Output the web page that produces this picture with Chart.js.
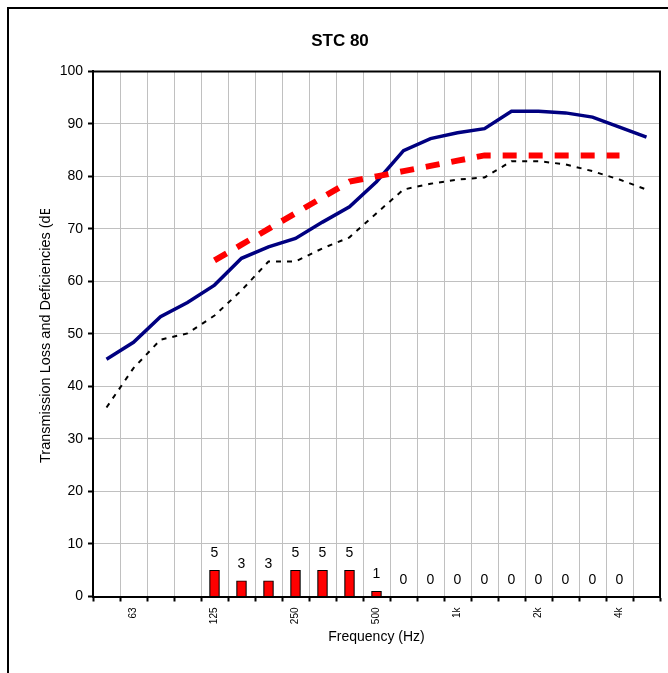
<!DOCTYPE html>
<html>
<head>
<meta charset="utf-8">
<script src="https://cdn.jsdelivr.net/npm/chart.js@4/dist/chart.umd.min.js"></script>
<style>
  html, body { margin: 0; padding: 0; background: #fff; overflow: hidden; }
  #frame { position: absolute; left: 7px; top: 7px; width: 720px; height: 720px; border: 2px solid #000; }
  #c { position: absolute; left: 0; top: 0; }
</style>
</head>
<body>
<div id="frame"></div>
<canvas id="c" width="668" height="673"></canvas>
<script>
const categories = ['50','63','80','100','125','160','200','250','315','400','500','630','800','1000','1250','1600','2000','2500','3150','4000','5000'];
const tickLabels = ['', '63', '', '', '125', '', '', '250', '', '', '500', '', '', '1k', '', '', '2k', '', '', '4k', ''];
const transmissionLoss = [45.2, 48.4, 53.3, 56.0, 59.3, 64.4, 66.6, 68.2, 71.3, 74.2, 79.0, 84.9, 87.2, 88.3, 89.1, 92.4, 92.4, 92.1, 91.3, 89.4, 87.5];
const stcContour = [null, null, null, null, 64, 67, 70, 73, 76, 79, 80, 81, 82, 83, 84, 84, 84, 84, 84, 84, null];
const secondCurve = [36.0, 43.5, 48.9, 50.1, 53.5, 58.3, 63.8, 63.8, 66.3, 68.4, 73.0, 77.5, 78.6, 79.4, 79.8, 82.9, 82.9, 82.3, 81.0, 79.4, 77.5];
const deficiencies = [null, null, null, null, 5, 3, 3, 5, 5, 5, 1, 0, 0, 0, 0, 0, 0, 0, 0, 0, null];
const yTicks = [0, 10, 20, 30, 40, 50, 60, 70, 80, 90, 100];

const FONT = "'Liberation Sans', Arial, sans-serif";
Chart.defaults.font.family = FONT;
Chart.defaults.color = '#000';

const frameAndLabels = {
  id: 'frameAndLabels',
  afterDatasetsDraw(chart) {
    const ctx = chart.ctx;
    const meta = chart.getDatasetMeta(0);
    ctx.save();
    ctx.font = '14px ' + FONT;
    ctx.fillStyle = '#000';
    ctx.textAlign = 'center';
    ctx.textBaseline = 'alphabetic';
    meta.data.forEach((el, i) => {
      const v = deficiencies[i];
      if (v === null || v === undefined) return;
      ctx.fillText(String(v), el.x, el.y - 13);
    });
    ctx.restore();
  },
  afterDraw(chart) {
    const ctx = chart.ctx;
    const a = chart.chartArea;
    ctx.save();
    ctx.strokeStyle = '#000';
    ctx.lineWidth = 2;
    ctx.beginPath();
    ctx.moveTo(a.left, a.top);
    ctx.lineTo(a.right, a.top);
    ctx.lineTo(a.right, a.bottom);
    ctx.stroke();
    // y axis title, clipped at the top like the original
    ctx.beginPath();
    ctx.rect(0, 209, 92, 673);
    ctx.clip();
    ctx.translate(50, 463);
    ctx.rotate(-Math.PI / 2);
    ctx.font = '14.5px ' + FONT;
    ctx.fillStyle = '#000';
    ctx.textAlign = 'left';
    ctx.textBaseline = 'alphabetic';
    ctx.fillText('Transmission Loss and Deficiencies (dB)', 0, 0);
    ctx.restore();
  }
};

new Chart(document.getElementById('c'), {
  type: 'bar',
  data: {
    labels: categories,
    datasets: [
      {
        type: 'bar', label: 'Deficiencies', data: deficiencies,
        backgroundColor: '#ff0000', borderColor: '#000', borderWidth: 1.2,
        barThickness: 10, order: 1
      },
      {
        type: 'line', label: 'STC contour', data: stcContour,
        borderColor: '#ff0000', borderWidth: 6, borderDash: [14, 12], borderCapStyle: 'butt',
        pointRadius: 0, fill: false, tension: 0, order: 2
      },
      {
        type: 'line', label: 'Transmission loss', data: transmissionLoss,
        borderColor: '#000080', borderWidth: 3.5, pointRadius: 0, fill: false, tension: 0, order: 3
      },
      {
        type: 'line', label: 'Curve', data: secondCurve,
        borderColor: '#000', borderWidth: 2, borderDash: [5, 6],
        pointRadius: 0, fill: false, tension: 0, order: 4
      }
    ]
  },
  options: {
    responsive: false,
    animation: false,
    devicePixelRatio: 1,
    layout: { padding: { left: 12, right: 0, top: 0, bottom: 0 } },
    plugins: {
      legend: { display: false },
      tooltip: { enabled: false },
      title: {
        display: true, text: 'STC 80', color: '#000',
        font: { size: 17, weight: 'bold', family: FONT },
        padding: { top: 31, bottom: 20 }
      }
    },
    scales: {
      x: {
        offset: true,
        grid: { color: '#c0c0c0', lineWidth: 1, offset: true, tickColor: '#000', tickLength: 5, tickWidth: 2 },
        border: { color: '#000', width: 2 },
        ticks: {
          autoSkip: false, minRotation: 90, maxRotation: 90, padding: 6,
          font: { size: 10 }, color: '#000',
          callback: (v, i) => tickLabels[i]
        },
        title: { display: true, text: 'Frequency (Hz)', font: { size: 14 }, color: '#000', padding: { top: 4, bottom: 27 } },
        afterFit: (s) => { s.height = 76.5; }
      },
      y: {
        min: 0, max: 100,
        afterBuildTicks: (s) => { s.ticks = yTicks.map(v => ({ value: v })); },
        grid: { color: '#c0c0c0', lineWidth: 1, tickColor: '#000', tickLength: 5, tickWidth: 2 },
        border: { color: '#000', width: 2 },
        ticks: { padding: 5, font: { size: 14 }, color: '#000' },
        afterFit: (s) => { s.width = 81; }
      },
      yR: {
        position: 'right', display: true,
        grid: { display: false }, border: { display: false }, ticks: { display: false },
        afterFit: (s) => { s.width = 8; }
      }
    }
  },
  plugins: [frameAndLabels]
});
</script>
</body>
</html>
